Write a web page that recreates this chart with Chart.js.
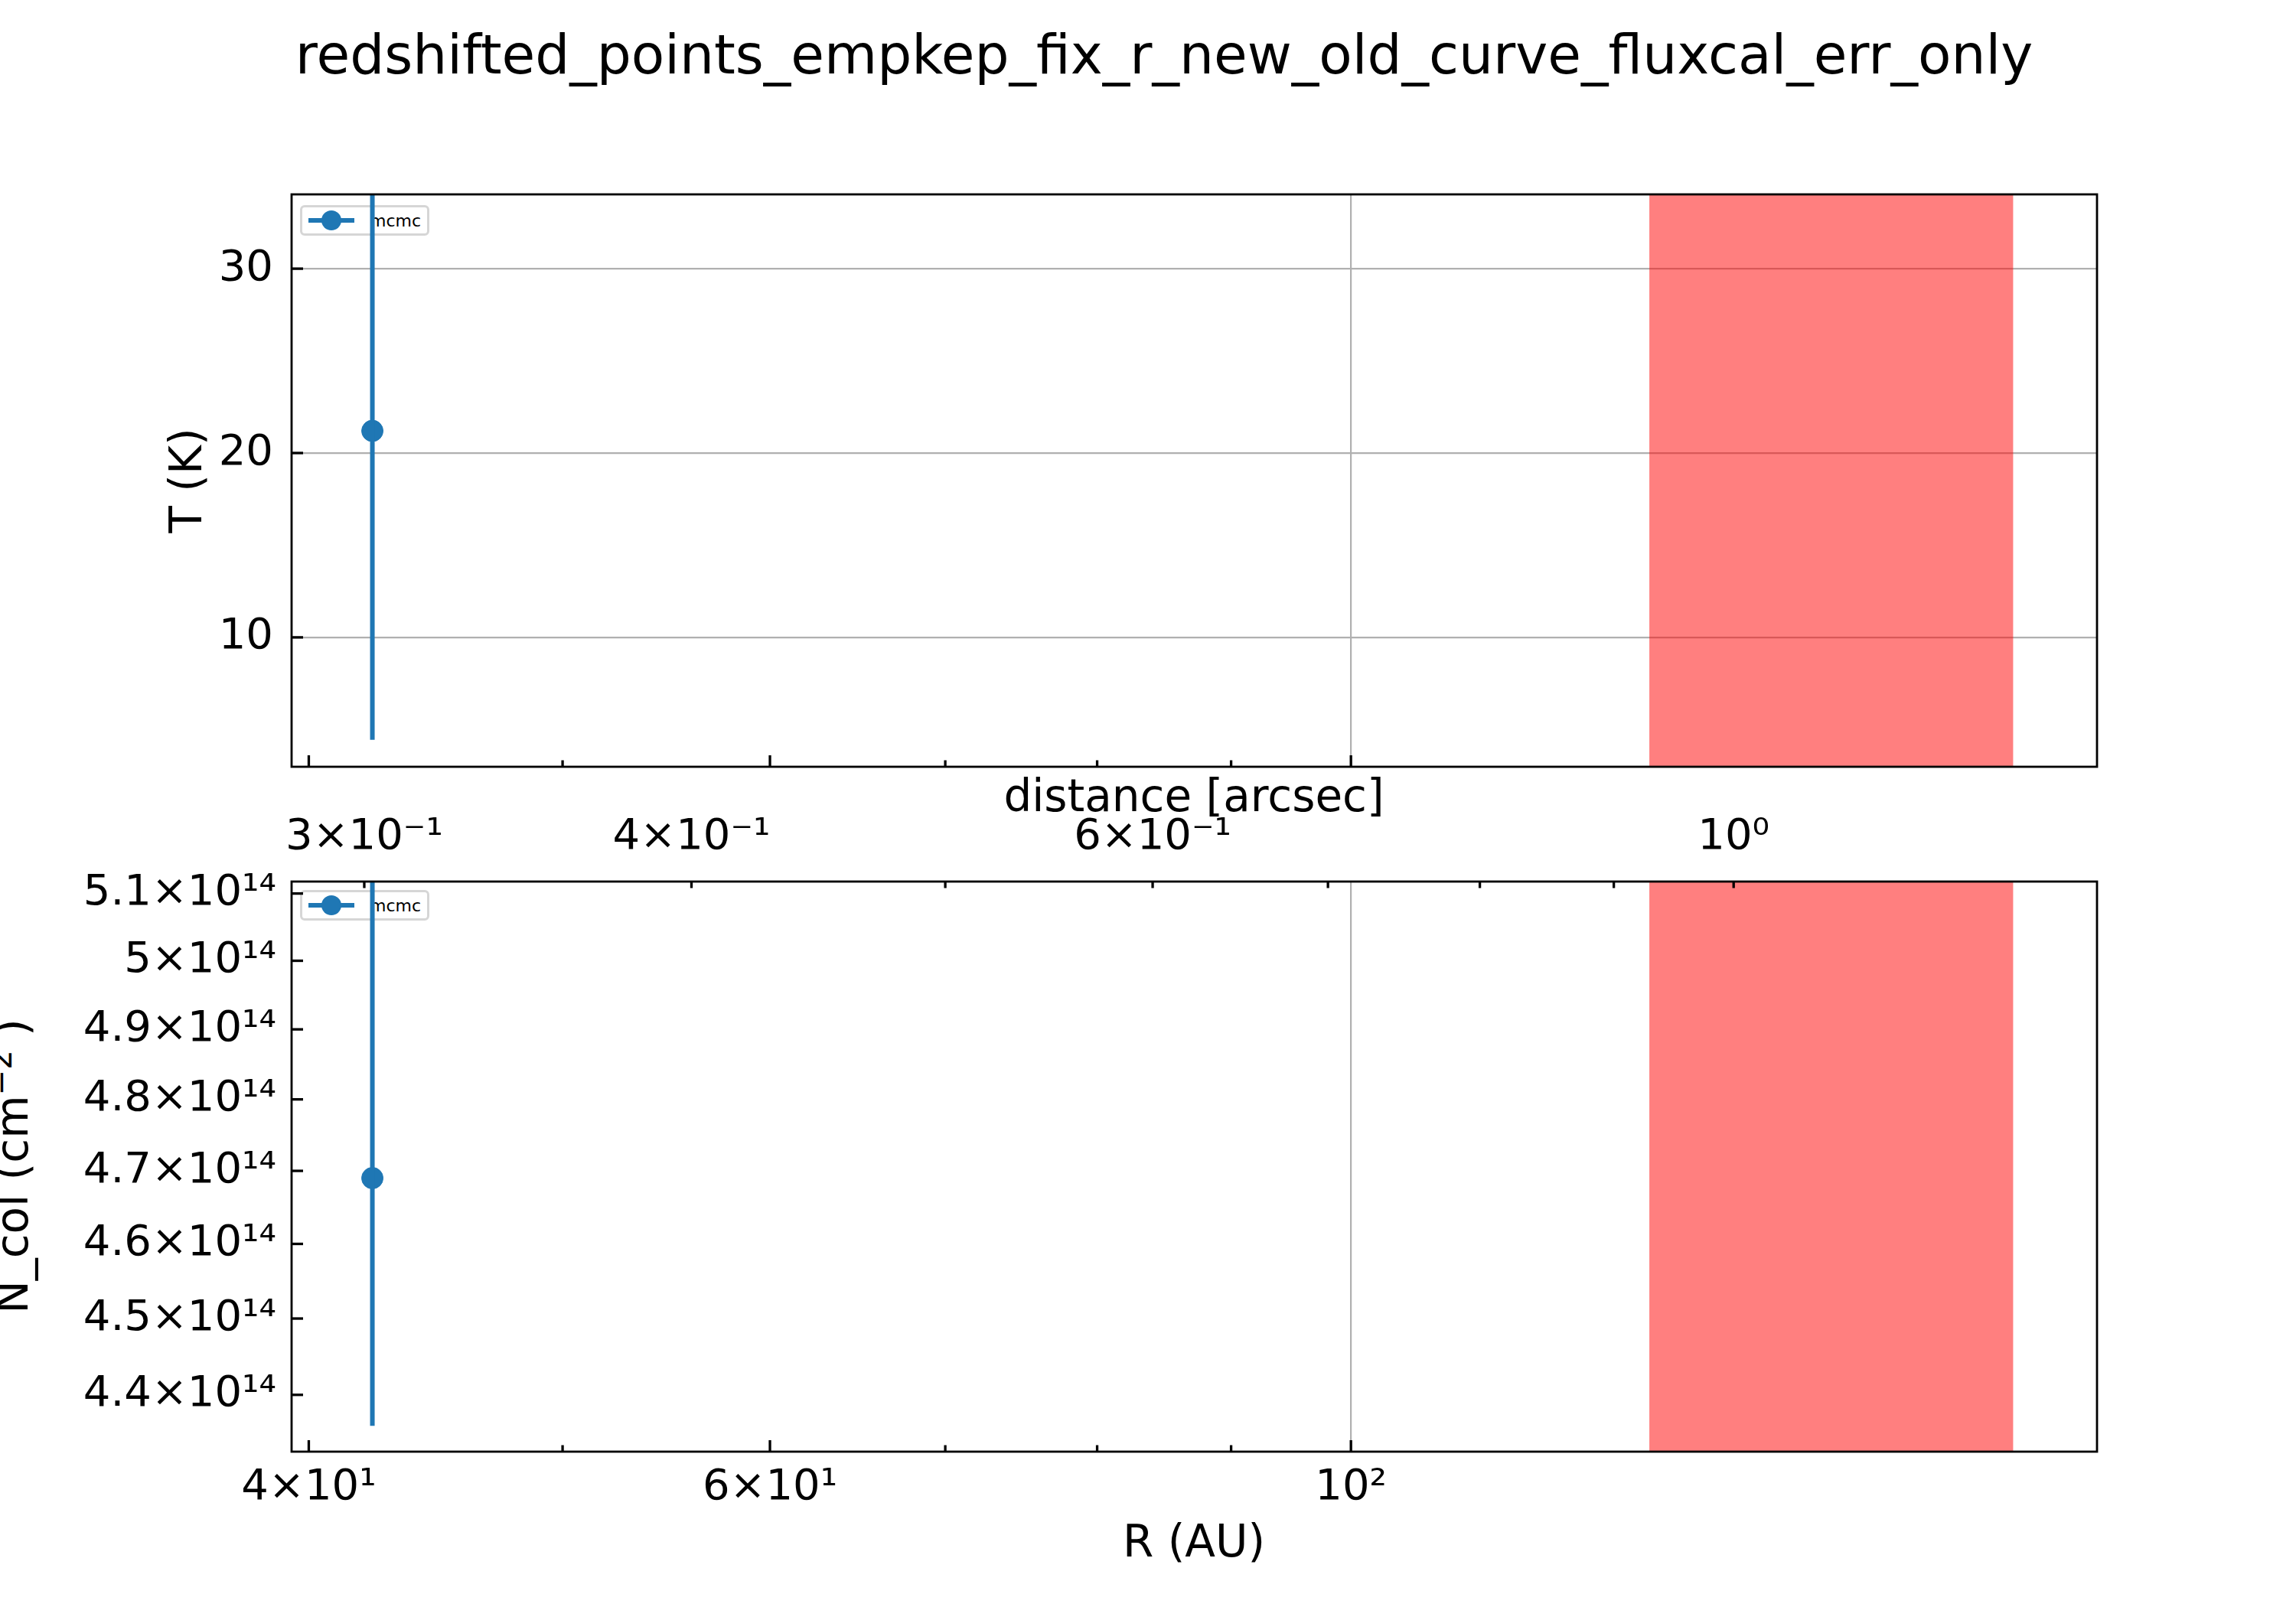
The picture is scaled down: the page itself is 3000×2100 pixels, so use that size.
<!DOCTYPE html>
<html><head><meta charset="utf-8">
<script src="https://cdn.jsdelivr.net/npm/chart.js@4.4.1/dist/chart.umd.min.js"></script>
<style>
body{margin:0;background:#fff;width:3000px;height:2100px;position:relative;overflow:hidden;font-family:"DejaVu Sans",sans-serif;}
canvas{position:absolute;left:0;top:0;}
.t{position:absolute;color:#000;white-space:nowrap;font-size:58px;}
.leg{position:absolute;border:3px solid #d6d6d6;border-radius:6px;background:rgba(255,255,255,0.8);font-size:22px;padding:4px 8px;display:flex;align-items:center;}
.leg span.m{display:inline-block;width:60px;height:26px;position:relative;margin-right:20px;}
.leg span.m:before{content:"";position:absolute;left:0;right:0;top:10px;height:6px;background:#1f77b4;}
.leg span.m:after{content:"";position:absolute;left:17px;top:0;width:26px;height:26px;border-radius:50%;background:#1f77b4;}
</style></head><body>
<div class="t" style="left:0;width:3042px;text-align:center;top:30px;font-size:71px;">redshifted_points_empkep_fix_r_new_old_curve_fluxcal_err_only</div>
<div class="t" style="left:243px;top:628px;transform:translate(-50%,-50%) rotate(-90deg);">T (K)</div>
<div class="t" style="left:14px;top:1524px;transform:translate(-50%,-50%) rotate(-90deg);">N_col (cm<sup style="font-size:40px">−2</sup> )</div>
<div class="t" style="left:1560px;top:1040px;transform:translate(-50%,-50%);">distance [arcsec]</div>
<div class="t" style="left:1560px;top:2014px;transform:translate(-50%,-50%);">R (AU)</div>
<div class="leg" style="left:392px;top:268px;"><span class="m"></span>mcmc</div>
<div class="leg" style="left:392px;top:1163px;"><span class="m"></span>mcmc</div>
<canvas id="c1" width="3000" height="2100"></canvas>
<canvas id="c2" width="3000" height="2100"></canvas>
<script>
const xMin = 39.4, xMax = 192.7;
const auPerArcsec = 140;
const xTicksAU = [40,50,60,70,80,90,100];
const xLabelsAU = {40:'4×10¹',60:'6×10¹',100:'10²'};
const xTicksArc = [0.3,0.4,0.5,0.6,0.7,0.8,0.9,1.0];
const xLabelsArc = {0.3:'3×10⁻¹',0.4:'4×10⁻¹',0.6:'6×10⁻¹',1:'10⁰'};
const pointR = [42.3];
const tVal = [21.2], tLow = [4.44], tHigh = [38];
const tTicks = [10,20,30];
const nVal = [4.69e14], nLow = [4.36e14], nHigh = [5.2e14];
const nTicks = [4.4e14,4.5e14,4.6e14,4.7e14,4.8e14,4.9e14,5.0e14,5.1e14];
const nLabels = {'4.4':'4.4×10¹⁴','4.5':'4.5×10¹⁴','4.6':'4.6×10¹⁴','4.7':'4.7×10¹⁴','4.8':'4.8×10¹⁴','4.9':'4.9×10¹⁴','5':'5×10¹⁴','5.1':'5.1×10¹⁴'};
const spanAU = [130,179];
const blue = '#1f77b4';
const font = {family:'DejaVu Sans', size:56};

const decor = {
  id:'decor',
  beforeDatasetsDraw(c){
    const a=c.chartArea, x=c.scales.x, ctx=c.ctx;
    ctx.save(); ctx.fillStyle='rgba(255,0,0,0.5)';
    const p0=x.getPixelForValue(spanAU[0]), p1=x.getPixelForValue(spanAU[1]);
    ctx.fillRect(p0,a.top,p1-p0,a.bottom-a.top); ctx.restore();
  },
  afterDraw(c){
    const a=c.chartArea, ctx=c.ctx; ctx.save();
    ctx.strokeStyle='#000'; ctx.lineWidth=3.3;
    for(const id in c.scales){
      const s=c.scales[id];
      s.ticks.forEach(t=>{
        const major = (s.axis==='x') ? (t.value in (id==='x'?xLabelsAU:xLabelsArc) || t.value===1) : true;
        const L = major?15:8.5;
        const p=s.getPixelForValue(t.value);
        ctx.beginPath();
        if(s.axis==='x'){
          if(s.position==='bottom'){ctx.moveTo(p,a.bottom);ctx.lineTo(p,a.bottom-L);}
          else {ctx.moveTo(p,a.top);ctx.lineTo(p,a.top+L);}
        } else {ctx.moveTo(a.left,p);ctx.lineTo(a.left+L,p);}
        ctx.stroke();
      });
    }
    ctx.lineWidth=2.8; ctx.strokeRect(a.left,a.top,a.right-a.left,a.bottom-a.top);
    ctx.restore();
  }
};
function xAxis(ticks, labels, show, pos, h, pad){
  return {type:'logarithmic', position:pos, min:xMin, max:xMax,
    afterBuildTicks:s=>{s.ticks=ticks.map(v=>({value:v}));},
    afterFit:s=>{s.height=h;},
    ticks:{display:show, font, color:'#000', padding:pad, maxRotation:0, autoSkip:false,
      callback:v=>labels[v]||''},
    grid:{drawTicks:false, lineWidth:2.2, color:c=>c.tick && c.tick.value===100 && pos==='bottom' ? '#b0b0b0':'rgba(0,0,0,0)'},
    border:{display:false}};
}
function errSet(lo,hi){return {type:'line',data:[{x:pointR[0],y:lo[0]},{x:pointR[0],y:hi[0]}],borderColor:blue,borderWidth:6,pointRadius:0,showLine:true};}
function ptSet(v){return {type:'scatter',data:[{x:pointR[0],y:v[0]}],backgroundColor:blue,borderColor:blue,pointRadius:14,pointHoverRadius:14};}

new Chart(document.getElementById('c1'),{
  type:'scatter',
  data:{datasets:[errSet(tLow,tHigh),ptSet(tVal)]},
  options:{responsive:false,animation:false,devicePixelRatio:1,
    layout:{padding:{left:0,top:254,right:260,bottom:1098-20}},
    plugins:{legend:{display:false},tooltip:{enabled:false}},
    scales:{
      x:xAxis(xTicksAU,xLabelsAU,false,'bottom',20,0),
      y:{type:'linear',min:2.98,max:34.03,
        afterBuildTicks:s=>{s.ticks=tTicks.map(v=>({value:v}));},
        afterFit:s=>{s.width=381;},
        ticks:{font,color:'#000',padding:24},
        grid:{drawTicks:false,color:'#b0b0b0',lineWidth:2.2},border:{display:false}}
    }},
  plugins:[decor]
});
const arcLabels = {}; xTicksArc.forEach(v=>{ arcLabels[v*auPerArcsec]=xLabelsArc[v]; });
new Chart(document.getElementById('c2'),{
  type:'scatter',
  data:{datasets:[errSet(nLow,nHigh),ptSet(nVal)]},
  options:{responsive:false,animation:false,devicePixelRatio:1,
    layout:{padding:{left:0,top:1152-140,right:260,bottom:2100-1897-160}},
    plugins:{legend:{display:false},tooltip:{enabled:false}},
    scales:{
      x:xAxis(xTicksAU,xLabelsAU,true,'bottom',160,14),
      x2:xAxis(xTicksArc.map(v=>v*auPerArcsec),arcLabels,true,'top',140,24),
      y:{type:'logarithmic',min:4.327e14,max:5.118e14,
        afterBuildTicks:s=>{s.ticks=nTicks.map(v=>({value:v}));},
        afterFit:s=>{s.width=381;},
        ticks:{font,color:'#000',padding:12,callback:v=>nLabels[String(+(v/1e14).toFixed(1))]||''},
        grid:{display:false},border:{display:false}}
    }},
  plugins:[decor]
});
</script></body></html>
